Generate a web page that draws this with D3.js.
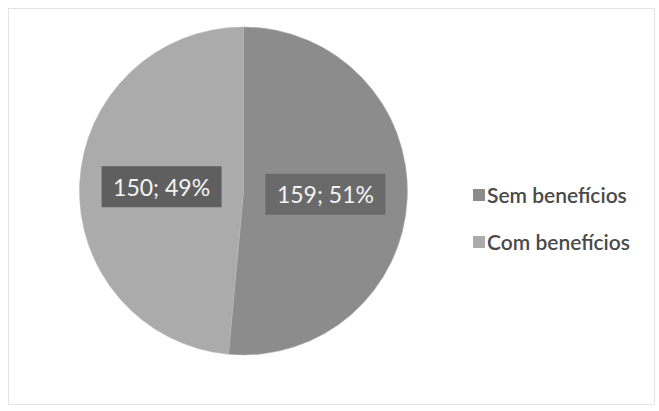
<!DOCTYPE html>
<html><head><meta charset="utf-8">
<script src="https://cdn.jsdelivr.net/npm/d3@7"></script>
<style>body{margin:0;background:#fff}svg{display:block}</style>
</head><body>
<script>
const categories = ["Sem benefícios", "Com benefícios"];
const values = [159, 150];
const percents = ["51%", "49%"];
const colors = ["#8c8c8c", "#ababab"];
const labelBg = ["#6a6a6a", "#5f5f5f"];

const W = 659, H = 411;
const svg = d3.select("body").append("svg").attr("width", W).attr("height", H);
svg.append("rect").attr("x", 8.5).attr("y", 8.5).attr("width", 646).attr("height", 396)
  .attr("fill", "#fff").attr("stroke", "#e4e4e4");

const cx = 243.5, cy = 191, r = 164;
const pie = d3.pie().sort(null).value(d => d)(values);
const arc = d3.arc().innerRadius(0).outerRadius(r);
const lab = d3.arc().innerRadius(r * 0.5).outerRadius(r * 0.5);
const g = svg.append("g").attr("transform", `translate(${cx},${cy})`);
g.selectAll("path").data(pie).join("path").attr("d", arc)
  .attr("fill", (d, i) => colors[i]).attr("stroke", "#b5b5b5").attr("stroke-width", 0.5);

pie.forEach((d, i) => {
  const [x, y] = lab.centroid(d);
  const lg = g.append("g").attr("transform", `translate(${x},${y})`);
  lg.append("rect").attr("x", -60).attr("y", -21).attr("width", 120).attr("height", 41)
    .attr("fill", labelBg[i]);
  lg.append("text").attr("text-anchor", "middle").attr("dy", "0.36em")
    .attr("font-family", "Lato, 'Open Sans', sans-serif").attr("font-size", 23)
    .attr("fill", "#f4f4f4").text(`${values[i]}; ${percents[i]}`);
});

const leg = svg.append("g").attr("transform", "translate(473,0)");
categories.forEach((c, i) => {
  const y = 195 + i * 47;
  leg.append("rect").attr("x", 0).attr("y", y - 6).attr("width", 12).attr("height", 12).attr("fill", colors[i]);
  leg.append("text").attr("x", 14).attr("y", y).attr("dy", "0.36em")
    .attr("font-family", "Lato, 'Open Sans', sans-serif").attr("font-size", 21).attr("font-weight", 600)
    .attr("fill", "#4a4a4a").text(c);
});
</script>
</body></html>
